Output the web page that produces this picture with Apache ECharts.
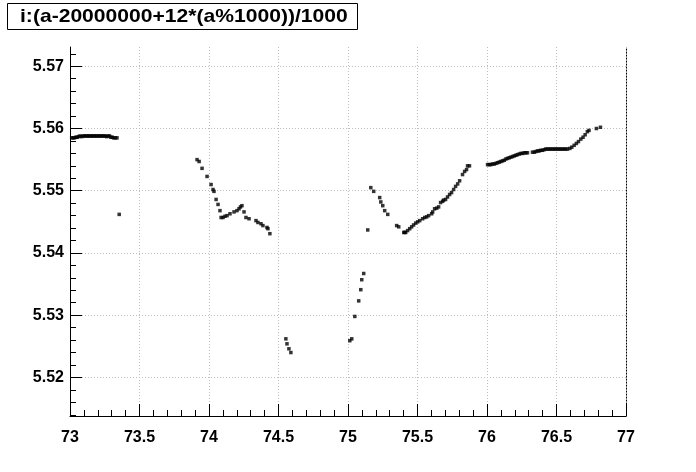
<!DOCTYPE html>
<html><head><meta charset="utf-8">
<script src="https://cdn.jsdelivr.net/npm/echarts@6/dist/echarts.min.js"></script>
<style>html,body{margin:0;padding:0;background:#fff}#c{width:696px;height:472px}</style>
</head><body><div id="c"></div>
<script>
const titleText = 'i:(a-20000000+12*(a%1000))/1000';
const xMin = 73, xMax = 77, xStep = 0.5;
const yMin = 5.5138, yMax = 5.5731;
const yTickLabels = [5.52, 5.53, 5.54, 5.55, 5.56, 5.57];
const yMinorStep = 0.002;

const segA = [[73.012,5.5585],[73.022,5.5585],[73.032,5.5585],[73.042,5.5586],[73.052,5.5586],[73.062,5.5587],[73.072,5.5588],[73.084,5.5587],[73.094,5.5588],[73.104,5.5588],[73.114,5.5588],[73.124,5.5588],[73.134,5.5588],[73.144,5.5588],[73.154,5.5588],[73.164,5.5588],[73.174,5.5588],[73.184,5.5588],[73.194,5.5588],[73.204,5.5588],[73.214,5.5588],[73.224,5.5588],[73.234,5.5588],[73.244,5.5588],[73.254,5.5588],[73.264,5.5587],[73.274,5.5588],[73.284,5.5588],[73.294,5.5586],[73.304,5.5586],[73.314,5.5585],[73.326,5.5585],[73.338,5.5585],[73.354,5.5462]];
const segB = [[73.914,5.5550],[73.929,5.5547],[73.950,5.5536],[73.986,5.5523],[74.015,5.5510],[74.029,5.5502],[74.036,5.5499],[74.051,5.5486],[74.065,5.5478],[74.079,5.5468],[74.087,5.5457],[74.101,5.5457],[74.115,5.5459],[74.130,5.5460],[74.151,5.5463],[74.180,5.5466],[74.201,5.5468],[74.216,5.5471],[74.226,5.5474],[74.237,5.5476],[74.252,5.5466],[74.266,5.5457],[74.288,5.5455],[74.338,5.5452],[74.352,5.5449],[74.374,5.5447],[74.388,5.5444],[74.417,5.5441],[74.424,5.5439],[74.438,5.5431]];
const segC = [[74.553,5.5262],[74.561,5.5254],[74.575,5.5246],[74.589,5.5240]];
const segD = [[75.013,5.5259],[75.027,5.5262],[75.049,5.5298],[75.077,5.5323],[75.092,5.5341],[75.099,5.5357],[75.113,5.5367],[75.142,5.5437]];
const segE = [[75.164,5.5505],[75.185,5.5499],[75.228,5.5489],[75.236,5.5482],[75.250,5.5476],[75.264,5.5468],[75.286,5.5462],[75.350,5.5444],[75.365,5.5442],[75.401,5.5433],[75.408,5.5433],[75.415,5.5433],[75.429,5.5436],[75.444,5.5439],[75.458,5.5442],[75.472,5.5445],[75.487,5.5448],[75.501,5.5450],[75.516,5.5452],[75.537,5.5455],[75.552,5.5457],[75.566,5.5458],[75.580,5.5460],[75.602,5.5463],[75.609,5.5466],[75.623,5.5471],[75.638,5.5472],[75.652,5.5474],[75.666,5.5481],[75.681,5.5483],[75.688,5.5485],[75.702,5.5486],[75.716,5.5490],[75.731,5.5494],[75.745,5.5497],[75.760,5.5502],[75.774,5.5507],[75.789,5.5511],[75.803,5.5516],[75.824,5.5526],[75.839,5.5531],[75.853,5.5534],[75.860,5.5540],[75.874,5.5540]];
const segF = [[76.004,5.5542],[76.016,5.5542],[76.028,5.5542],[76.040,5.5543],[76.052,5.5543],[76.064,5.5544],[76.076,5.5545],[76.088,5.5546],[76.100,5.5547],[76.112,5.5548],[76.124,5.5549],[76.136,5.5551],[76.148,5.5552],[76.160,5.5553],[76.172,5.5554],[76.184,5.5555],[76.196,5.5556],[76.208,5.5557],[76.219,5.5558],[76.232,5.5559],[76.244,5.5560],[76.256,5.5560],[76.268,5.5561],[76.280,5.5561],[76.291,5.5561],[76.327,5.5562],[76.340,5.5562],[76.352,5.5563],[76.364,5.5564],[76.375,5.5564],[76.387,5.5565],[76.399,5.5565],[76.411,5.5566],[76.423,5.5567],[76.435,5.5567],[76.447,5.5567],[76.459,5.5567],[76.471,5.5567],[76.483,5.5567],[76.495,5.5567],[76.507,5.5567],[76.519,5.5567],[76.531,5.5567],[76.543,5.5567],[76.555,5.5567],[76.567,5.5567],[76.579,5.5567],[76.596,5.5568],[76.610,5.5570],[76.627,5.5573],[76.643,5.5576],[76.658,5.5579],[76.675,5.5583],[76.691,5.5586],[76.706,5.5590],[76.722,5.5595],[76.734,5.5597],[76.787,5.5600],[76.816,5.5602]];

const points = [].concat(segA, segB, segC, segD, segE, segF);
const yMinor = [];
for (let v = 5.514; v < yMax; v += yMinorStep) yMinor.push(Math.round(v * 1000) / 1000);

const FONT = 'Liberation Sans';
const gridLine = { show: true, lineStyle: { color: '#bdbdbd', width: 1, type: [1, 2] } };
const labelStyle = { color: '#000', fontFamily: FONT, fontWeight: 'bold', fontSize: 16 };

const chart = echarts.init(document.getElementById('c'), null, { renderer: 'canvas' });
chart.setOption({
  animation: false,
  backgroundColor: '#fff',
  grid: { left: 70, right: 70, top: 47, bottom: 56, containLabel: false },
  xAxis: [{
    type: 'value', min: xMin, max: xMax, interval: xStep,
    axisLine: { show: true, onZero: false, lineStyle: { color: '#000', width: 1 } },
    axisTick: { show: true, inside: true, length: 12, lineStyle: { color: '#000', width: 1 } },
    minorTick: { show: true, splitNumber: 5, length: 6, lineStyle: { color: '#000', width: 1 } },
    axisLabel: Object.assign({ margin: 14, formatter: v => String(v) }, labelStyle),
    splitLine: gridLine
  }],
  yAxis: [{
    type: 'value', min: yMin, max: yMax, position: 'left',
    axisLine: { show: true, onZero: false, lineStyle: { color: '#000', width: 1 } },
    axisTick: { show: true, inside: true, length: 12, customValues: yTickLabels, lineStyle: { color: '#000', width: 1 } },
    axisLabel: Object.assign({ margin: 6, customValues: yTickLabels, formatter: v => v.toFixed(2) }, labelStyle),
    splitLine: gridLine
  }, {
    type: 'value', min: yMin, max: yMax, position: 'left', offset: 0,
    axisLine: { show: false },
    axisTick: { show: true, inside: true, length: 6, customValues: yMinor, lineStyle: { color: '#000', width: 1 } },
    axisLabel: { show: false },
    splitLine: { show: false }
  }, {
    type: 'value', min: yMin, max: yMax, position: 'right', offset: 0,
    axisLine: { show: true, onZero: false, lineStyle: { color: '#000', width: 1, type: [1, 2] } },
    axisTick: { show: false }, axisLabel: { show: false }, splitLine: { show: false }
  }],
  series: [{
    type: 'scatter', xAxisIndex: 0, yAxisIndex: 0,
    symbol: 'rect', symbolSize: 3.5,
    itemStyle: { color: '#000' },
    silent: true,
    data: points
  }],
  graphic: [{
    type: 'rect', shape: { x: 7.5, y: 3.5, width: 350, height: 26 },
    style: { fill: '#fff', stroke: '#000', lineWidth: 1 }, z: 10
  }, {
    type: 'text', x: 20, y: 17, scaleX: 1.11, scaleY: 1,
    style: { text: titleText, x: 0, y: 0, fill: '#000', font: 'bold 19px "' + FONT + '"', textVerticalAlign: 'middle', verticalAlign: 'middle' }, z: 11
  }]
});
</script>
</body></html>
